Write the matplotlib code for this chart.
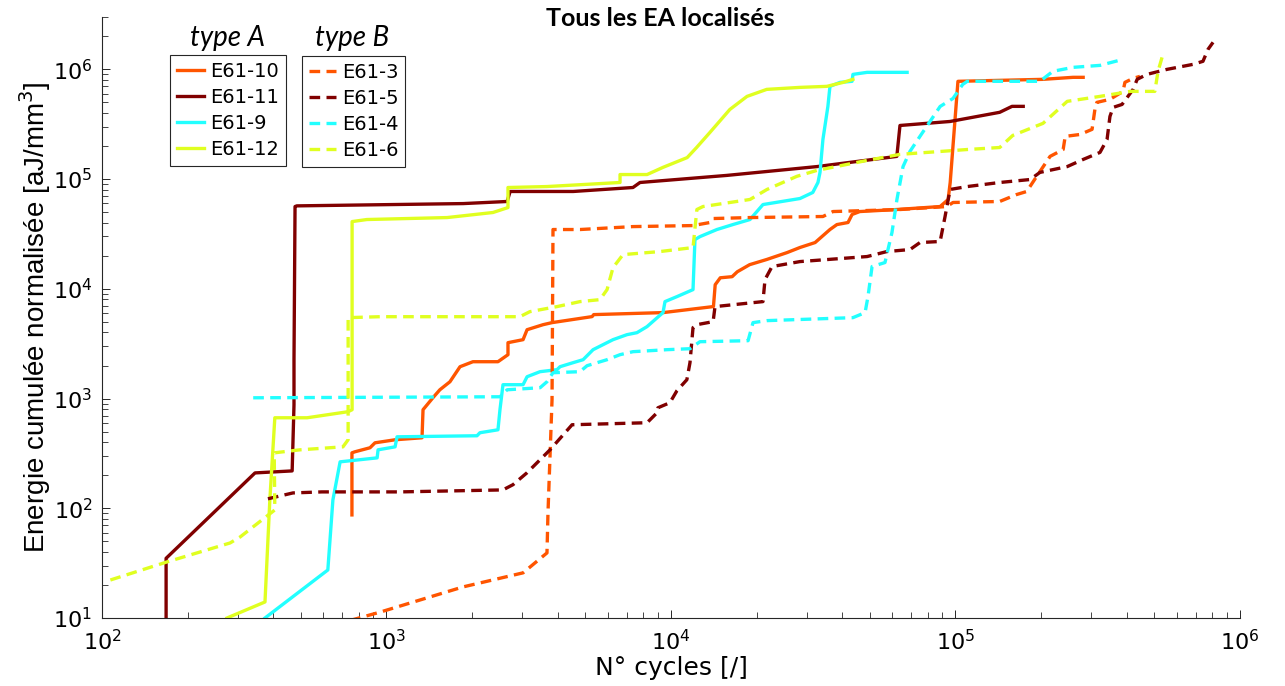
import matplotlib
matplotlib.use("Agg")
import matplotlib.pyplot as plt

plt.rcParams['font.family'] = ['DejaVu Sans']
plt.rcParams['mathtext.fontset'] = 'dejavusans'

# ---------------- data (cycles, cumulated normalised energy) ----------------
e61_10_x = [756, 756, 774, 875, 911, 1072, 1333, 1344, 1456, 1540, 1671, 1813, 2013, 2465, 2673,
            2673, 3020, 3120, 3550, 3820, 5280, 5350, 9380, 14100, 14300, 14900, 16400, 17100,
            18900, 21700, 25600, 28400, 32100, 36200, 38300, 41900, 43300, 46100, 62200, 88300,
            94200, 95800, 102000, 203000, 259000, 281000]
e61_10_y = [87, 320, 327, 356, 395, 421, 439, 791, 1017, 1202, 1422, 1950, 2166, 2166, 2510,
            3230, 3440, 4240, 4710, 4920, 5580, 5820, 6070, 6890, 10900, 12600, 12900, 14300,
            16600, 18500, 21400, 23800, 26400, 34700, 38500, 40200, 47600, 50600, 52800, 56200,
            65100, 93100, 778000, 811000, 846000, 846000]

e61_11_x = [168, 168, 345, 466, 473, 473, 477, 484, 1860, 2655, 2720, 4530, 7350, 7780, 15700,
            32600, 62200, 63800, 95700, 143000, 158000, 173000]
e61_11_y = [9, 35, 210, 219, 877, 2260, 56200, 57000, 59800, 62500, 77100, 77100, 83800, 93100,
            108000, 130000, 161000, 308000, 335000, 406000, 460000, 460000]

e61_9_x = [374, 622, 648, 687, 927, 934, 1072, 1089, 2080, 2130, 2465, 2505, 2567, 3020, 3120,
           3465, 3975, 4074, 4528, 4910, 5322, 6254, 7002, 7590, 8232, 9372, 9526, 10500, 11950,
           12140, 12640, 14500, 16500, 18950, 21050, 28400, 31500, 32850, 33400, 34200, 35600,
           36200, 39300, 43300, 43600, 48900, 67600]
e61_9_y = [10, 27.4, 119, 265, 288, 341, 363, 448, 458, 488, 519, 791, 1337, 1337, 1581, 1757,
           1833, 1951, 2123, 2260, 2788, 3440, 3820, 3983, 4518, 6068, 7645, 8495, 9835, 28100,
           29900, 34700, 38500, 42800, 58600, 66500, 75500, 93100, 115000, 230000, 459000,
           700000, 761000, 778000, 900000, 939000, 939000]

e61_12_x = [275, 374, 389, 405, 526, 733, 757, 757, 853, 1633, 2367, 2673, 2673, 3664, 6620,
            6620, 8240, 9380, 11400, 12300, 13700, 16100, 18500, 21700, 28400, 35300, 40300,
            43600]
e61_12_y = [10, 14, 119, 668, 668, 759, 791, 41000, 42800, 44600, 49600, 55000, 83800, 85500,
            93100, 110000, 110000, 128000, 157000, 194000, 266000, 431000, 567000, 657000,
            685000, 700000, 761000, 811000]

e61_3_x = [745, 948, 1858, 3020, 3665, 3695, 3818, 3848, 4787, 7350, 11950, 13700, 14050, 18950,
           34200, 37100, 63800, 93300, 98000, 143000, 164000, 178000, 193000, 215000, 239000,
           243000, 274000, 302000, 309000, 314000, 349000, 388000, 394000, 421000, 445000]
e61_3_y = [9.5, 11.3, 19.2, 25.8, 39.2, 90.8, 975, 34700, 34700, 36900, 37700, 40200, 43700,
           44600, 45600, 50600, 52800, 56200, 61200, 62500, 72300, 77100, 106000, 161000, 186000,
           245000, 255000, 284000, 431000, 500000, 533000, 630000, 761000, 828000, 863000]

e61_5_x = [383, 469, 593, 1114, 2565, 2783, 3120, 3756, 4490, 8240, 8930, 8997, 9910, 10490,
           11370, 11660, 11950, 12330, 14060, 14280, 21050, 21400, 22650, 28400, 48900, 57400,
           69200, 75000, 88300, 91900, 95700, 110000, 143000, 183000, 198000, 247000, 281000,
           322000, 341000, 349000, 358000, 385000, 421000, 435000, 471000, 554000, 683000,
           741000, 772000, 804000]
e61_5_y = [122, 138, 141, 141, 147, 164, 211, 341, 577, 602, 742, 824, 916, 1178, 1485, 2123,
           4426, 4712, 5020, 6885, 7645, 12140, 15950, 17710, 19680, 21850, 22800, 26400, 27000,
           45600, 80400, 85500, 93100, 99100, 115000, 130000, 151000, 175000, 230000, 372000,
           450000, 479000, 657000, 811000, 900000, 1000000, 1110000, 1184000, 1522000, 1763000]

e61_4_x = [340, 2506, 2655, 3466, 3665, 3848, 4787, 5070, 5960, 6620, 7350, 9680, 11660, 12640,
           18660, 19420, 21740, 43600, 48100, 49250, 50900, 56500, 57900, 59800, 62250, 65400,
           69200, 75000, 88300, 98000, 106000, 110000, 198000, 220000, 259000, 322000, 388000]
e61_4_y = [1016, 1038, 1202, 1255, 1423, 1719, 1757, 1992, 2260, 2510, 2673, 2788, 2846, 3296,
           3366, 4918, 5130, 5460, 6068, 8495, 15960, 17350, 22800, 32600, 65200, 130000, 179000,
           245000, 459000, 543000, 729000, 778000, 778000, 960000, 1043000, 1087000, 1234000]

e61_6_x = [107, 169, 282, 306, 405, 403, 497, 703, 733, 733, 948, 2943, 3190, 3975, 4787, 5627,
           5960, 6254, 6780, 9140, 11950, 12330, 12950, 18950, 21740, 27700, 32600, 48900, 63800,
           110000, 143000, 159000, 203000, 247000, 322000, 411000, 502000, 515000, 536000]
e61_6_y = [22.2, 32.4, 48.3, 54.8, 96.6, 320, 341, 363, 421, 5460, 5570, 5570, 6190, 6885, 7645,
           7968, 9835, 15600, 20500, 21850, 23770, 52800, 56200, 65200, 80400, 106000, 120000,
           148000, 168000, 186000, 194000, 250000, 322000, 511000, 567000, 630000, 630000,
           960000, 1372000]

labels_a = ['E61-10', 'E61-11', 'E61-9', 'E61-12']
labels_b = ['E61-3', 'E61-5', 'E61-4', 'E61-6']

c_orange = '#FF5500'
c_dark = '#800000'
c_cyan = '#22FFFF'
c_yellow = '#E0FF20'

# ---------------- figure ----------------
fig = plt.figure(figsize=(12.85, 6.86), dpi=100)
ax = fig.add_axes([102/1285, 1-618/686, 1138/1285, 601/686])

lw = 2.4
dash = (0, (3.2, 1.9))
series_a = [(e61_10_x, e61_10_y, c_orange), (e61_11_x, e61_11_y, c_dark),
            (e61_9_x, e61_9_y, c_cyan), (e61_12_x, e61_12_y, c_yellow)]
series_b = [(e61_3_x, e61_3_y, c_orange), (e61_5_x, e61_5_y, c_dark),
            (e61_4_x, e61_4_y, c_cyan), (e61_6_x, e61_6_y, c_yellow)]

handles_a = []
for (x, y, c), lab in zip(series_a, labels_a):
    h, = ax.plot(x, y, color=c, lw=lw, solid_joinstyle='round', label=lab)
    handles_a.append(h)
handles_b = []
for (x, y, c), lab in zip(series_b, labels_b):
    h, = ax.plot(x, y, color=c, lw=lw, linestyle=dash, label=lab)
    handles_b.append(h)

ax.set_xscale('log')
ax.set_yscale('log')
ax.set_xlim(100, 1e6)
ax.set_ylim(10, 3e6)

for s in ['top', 'right']:
    ax.spines[s].set_visible(False)
for s in ['left', 'bottom']:
    ax.spines[s].set_color('#262626')
    ax.spines[s].set_linewidth(0.8)

ax.tick_params(which='both', direction='in', colors='#262626', labelsize=16, labelcolor='black')
ax.tick_params(which='major', length=6, width=0.7)
ax.tick_params(which='minor', length=4, width=0.6)
ax.tick_params(axis='x', which='major', pad=8)
ax.tick_params(axis='y', which='major', pad=7)

ax.set_xlabel('N° cycles [/]', fontsize=18, labelpad=1)
ax.set_ylabel('Energie cumulée normalisée [aJ/mm$^3$]', fontsize=20, labelpad=0,
              family=['Liberation Sans', 'DejaVu Sans'])

fig.text(660/1285, 1-18/686, 'Tous les EA localisés', ha='center', va='center',
         fontsize=18, fontweight='bold', family=['Lato', 'DejaVu Sans'])

leg_kw = dict(loc='upper left', borderaxespad=0, fontsize=14, handlelength=1.4,
              handletextpad=0.3, labelspacing=0.36, borderpad=0.35, fancybox=False,
              framealpha=1, edgecolor='#262626')
leg_a = ax.legend(handles=handles_a, bbox_to_anchor=((170-102)/1138, (618-55)/601), **leg_kw)
leg_a.get_frame().set_linewidth(0.8)
ax.add_artist(leg_a)
leg_b = ax.legend(handles=handles_b, bbox_to_anchor=((302-102)/1138, (618-56)/601), **leg_kw)
leg_b.get_frame().set_linewidth(0.8)

fig.text(228/1285, 1-38/686, 'type A', ha='center', va='center', fontsize=20,
         style='italic', family=['Lato', 'DejaVu Sans'])
fig.text(352/1285, 1-38/686, 'type B', ha='center', va='center', fontsize=20,
         style='italic', family=['Lato', 'DejaVu Sans'])

fig.savefig('out.png', dpi=100)
